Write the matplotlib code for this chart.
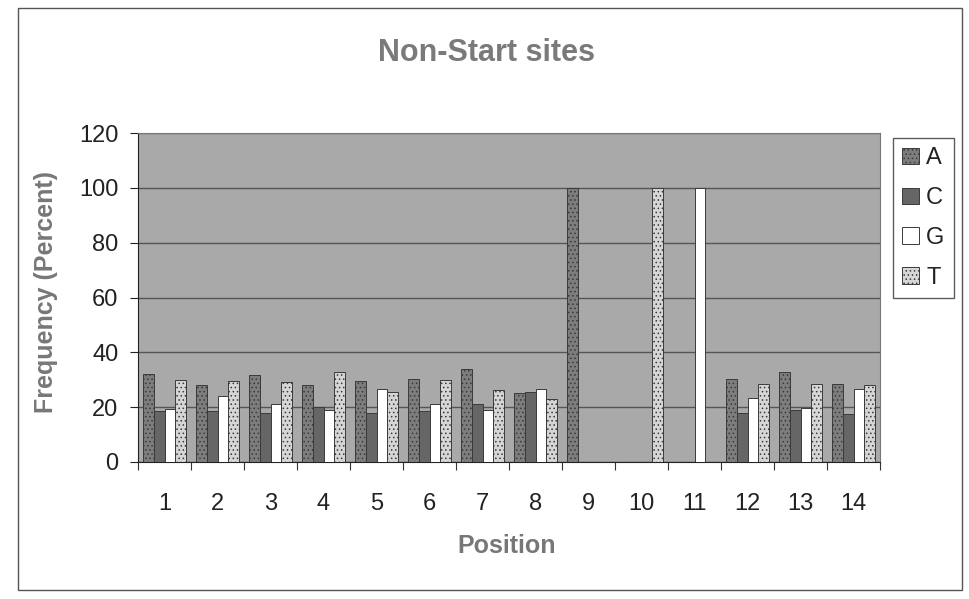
import matplotlib
matplotlib.use("Agg")
import matplotlib.pyplot as plt
import numpy as np
from matplotlib.patches import Rectangle

plt.rcParams['font.family'] = ['Liberation Sans', 'DejaVu Sans']

positions = ["1", "2", "3", "4", "5", "6", "7", "8", "9", "10", "11", "12", "13", "14"]
freq_A = [32.0, 28.0, 31.7, 28.0, 29.6, 30.3, 34.0, 25.3, 100, 0, 0, 30.3, 33.0, 28.4]
freq_C = [18.5, 18.5, 18.0, 20.0, 18.0, 18.5, 21.0, 25.7, 0, 0, 0, 18.0, 19.0, 17.5]
freq_G = [19.4, 24.0, 21.0, 18.9, 26.8, 21.2, 19.0, 26.8, 0, 0, 100, 23.5, 19.8, 26.5]
freq_T = [30.0, 29.6, 29.3, 33.0, 25.7, 30.0, 26.3, 23.1, 0, 100, 0, 28.4, 28.4, 28.0]
series = [("A", freq_A), ("C", freq_C), ("G", freq_G), ("T", freq_T)]

face = {"A": "#7d7d7d", "C": "#666666", "G": "#ffffff", "T": "#d6d6d6"}
hatch = {"A": "....", "C": None, "G": None, "T": "...."}

fig = plt.figure(figsize=(9.69, 5.99), dpi=100)
fig.patch.set_facecolor("white")

# outer chart frame
fig.add_artist(Rectangle((18 / 969, 1 - 590 / 599), (962 - 18) / 969, (590 - 8) / 599,
                         transform=fig.transFigure, fill=False, edgecolor="#555555", lw=1.0))

ax = fig.add_axes([138 / 969, 1 - 462 / 599, (880 - 138) / 969, (462 - 133) / 599])
ax.set_facecolor("#a9a9a9")

x = np.arange(len(positions))
w = 0.2
offsets = [-0.3, -0.1, 0.1, 0.3]
plt.rcParams['hatch.color'] = '#555555'
plt.rcParams['hatch.linewidth'] = 0.6
for (name, vals), off in zip(series, offsets):
    ax.bar(x + off, vals, width=w, color=face[name], edgecolor="#3a3a3a", linewidth=0.7,
           hatch=hatch[name], label=name, zorder=3)

ax.set_xlim(-0.5, len(positions) - 0.5)
ax.set_ylim(0, 120)
ax.set_yticks(range(0, 121, 20))
ax.yaxis.grid(True, color="#555555", lw=1.0, zorder=1)
ax.set_axisbelow(True)

ax.set_xticks(x)
ax.set_xticklabels(positions)
ax.set_xticks(np.arange(-0.5, len(positions), 1.0), minor=True)
ax.tick_params(axis="x", which="major", length=0, pad=22, labelsize=17, colors="#222222")
ax.tick_params(axis="x", which="minor", length=6, width=0.8, color="#333333")
ax.tick_params(axis="y", length=6, width=0.8, pad=8, labelsize=17, colors="#222222")

for s in ["top", "right"]:
    ax.spines[s].set_color("#777777")
for s in ["left", "bottom"]:
    ax.spines[s].set_color("#222222")

fig.text(487 / 969, 1 - 53 / 599, "Non-Start sites", ha="center", va="center",
         fontsize=22, fontweight="bold", color="#7a7a7a")
fig.text(507 / 969, 1 - 546 / 599, "Position", ha="center", va="center",
         fontsize=18, fontweight="bold", color="#777777")
fig.text(46 / 969, 1 - 292 / 599, "Frequency (Percent)", ha="center", va="center",
         rotation=90, fontsize=18, fontweight="bold", color="#777777")

leg = ax.legend(loc="upper left", bbox_to_anchor=(893 / 969, 1 - 138 / 599),
                bbox_transform=fig.transFigure, frameon=True, fancybox=False,
                fontsize=17, handlelength=0.7, handleheight=0.7, handletextpad=0.3,
                labelspacing=0.75, borderpad=0.4, borderaxespad=0)
leg.get_frame().set_edgecolor("#333333")
leg.get_frame().set_linewidth(1.0)
for t in leg.get_texts():
    t.set_color("#222222")

fig.savefig("out.png", dpi=100)
